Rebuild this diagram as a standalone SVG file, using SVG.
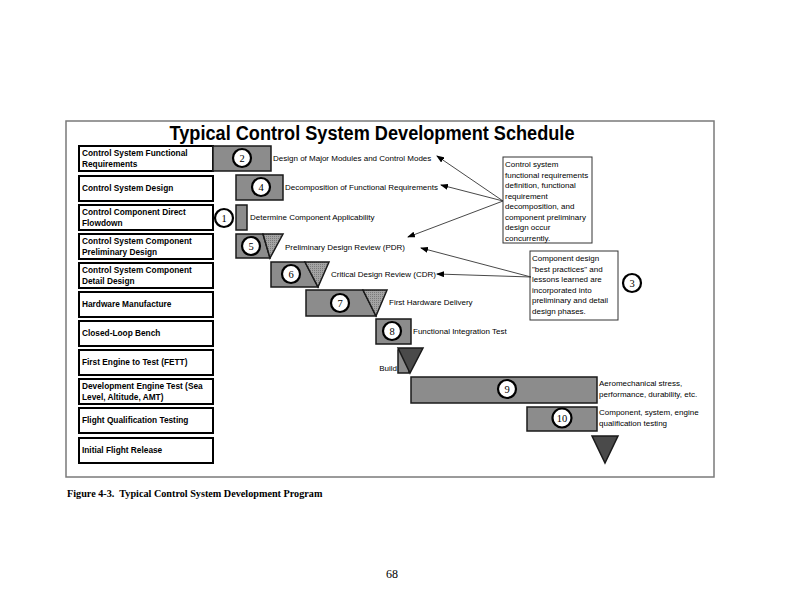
<svg xmlns="http://www.w3.org/2000/svg" width="792" height="612" viewBox="0 0 792 612">
<style>
.lbl{fill:#fff;stroke:#000;stroke-width:2}
.lt{font-family:"Liberation Sans",Arial,sans-serif;font-weight:bold;font-size:8.3px;fill:#000}
.bar{fill:#8c8c8c;stroke:#1a1a1a;stroke-width:1.5}
.hat{fill:url(#hatch);stroke:#1a1a1a;stroke-width:1.5}
.dark{fill:#4a4a4a;stroke:#1a1a1a;stroke-width:1.5}
.cir{fill:#fff;stroke:#000;stroke-width:2.2}
.num{font-family:"Liberation Serif","Times New Roman",serif;font-size:10.5px;fill:#000;text-anchor:middle}
.t{font-family:"Liberation Sans",Arial,sans-serif;font-size:8px;fill:#000}
.box{fill:#fff;stroke:#333;stroke-width:1}
.con{stroke:#333;stroke-width:0.9;fill:none;marker-end:url(#ah)}
</style>
<defs>
<pattern id="hatch" width="2" height="2" patternUnits="userSpaceOnUse">
<rect width="2" height="2" fill="#a4a4a4"/>
<rect width="1" height="1" fill="#7a7a7a"/>
</pattern>
<marker id="ah" markerWidth="8" markerHeight="6" refX="7" refY="3" orient="auto" markerUnits="userSpaceOnUse">
<path d="M0,0 L8,3 L0,6 z" fill="#000"/>
</marker>
</defs>
<rect width="792" height="612" fill="#fff"/>
<rect x="66" y="121" width="648" height="356" fill="#fff" stroke="#7a7a7a" stroke-width="1.5"/>
<text x="372" y="140" text-anchor="middle" font-family="'Liberation Sans',Arial,sans-serif" font-weight="bold" font-size="20" textLength="405" lengthAdjust="spacingAndGlyphs">Typical Control System Development Schedule</text>

<g id="labels">
<g id="row1"><rect class="lbl" x="79" y="146" width="134" height="25"/><text class="lt" x="82" y="156">Control System Functional</text><text class="lt" x="82" y="167">Requirements</text></g>
<g id="row2"><rect class="lbl" x="79" y="176" width="134" height="25"/><text class="lt" x="82" y="191">Control System Design</text></g>
<g id="row3"><rect class="lbl" x="79" y="205" width="134" height="25"/><text class="lt" x="82" y="215">Control Component Direct</text><text class="lt" x="82" y="226">Flowdown</text></g>
<g id="row4"><rect class="lbl" x="79" y="234" width="134" height="25"/><text class="lt" x="82" y="244">Control System Component</text><text class="lt" x="82" y="255">Preliminary Design</text></g>
<g id="row5"><rect class="lbl" x="79" y="263" width="134" height="25"/><text class="lt" x="82" y="273">Control System Component</text><text class="lt" x="82" y="284">Detail Design</text></g>
<g id="row6"><rect class="lbl" x="79" y="292" width="134" height="25"/><text class="lt" x="82" y="307">Hardware Manufacture</text></g>
<g id="row7"><rect class="lbl" x="79" y="321" width="134" height="25"/><text class="lt" x="82" y="336">Closed-Loop Bench</text></g>
<g id="row8"><rect class="lbl" x="79" y="350" width="134" height="25"/><text class="lt" x="82" y="365">First Engine to Test (FETT)</text></g>
<g id="row9"><rect class="lbl" x="79" y="379" width="134" height="25"/><text class="lt" x="82" y="389">Development Engine Test (Sea</text><text class="lt" x="82" y="400">Level, Altitude, AMT)</text></g>
<g id="row10"><rect class="lbl" x="79" y="408" width="134" height="25"/><text class="lt" x="82" y="423">Flight Qualification Testing</text></g>
<g id="row11"><rect class="lbl" x="79" y="438" width="134" height="25"/><text class="lt" x="82" y="453">Initial Flight Release</text></g>
</g>

<g id="task2"><rect class="bar" x="213" y="146" width="58" height="25"/><circle class="cir" cx="242" cy="158" r="9"/><text class="num" x="242" y="161.5">2</text><text class="t" x="273" y="161">Design of Major Modules and Control Modes</text></g>
<g id="task4"><rect class="bar" x="236" y="175" width="47" height="25"/><circle class="cir" cx="261" cy="187" r="9"/><text class="num" x="261" y="190.5">4</text><text class="t" x="285" y="190">Decomposition of Functional Requirements</text></g>
<g id="task1"><circle class="cir" cx="224" cy="218" r="9"/><text class="num" x="224" y="221.5">1</text><rect class="bar" x="236" y="205" width="11" height="25"/><text class="t" x="250" y="220">Determine Component Applicability</text></g>
<g id="task5"><path class="bar" d="M236,234 L263,234 L270,258 L236,258 Z"/><path class="hat" d="M263,234 L283,234 L270,258 Z"/><circle class="cir" cx="251" cy="246" r="9"/><text class="num" x="251" y="249.5">5</text><text class="t" x="285" y="250">Preliminary Design Review (PDR)</text></g>
<g id="task6"><path class="bar" d="M271,262 L305,262 L318,287 L271,287 Z"/><path class="hat" d="M305,262 L329,262 L318,287 Z"/><circle class="cir" cx="291" cy="274" r="9"/><text class="num" x="291" y="277.5">6</text><text class="t" x="331" y="277">Critical Design Review (CDR)</text></g>
<g id="task7"><path class="bar" d="M306,290 L363,290 L376,316 L306,316 Z"/><path class="hat" d="M363,290 L387,290 L376,316 Z"/><circle class="cir" cx="340" cy="303" r="9"/><text class="num" x="340" y="306.5">7</text><text class="t" x="389" y="305">First Hardware Delivery</text></g>
<g id="task8"><rect class="bar" x="376" y="319" width="35" height="25"/><circle class="cir" cx="392" cy="331" r="9"/><text class="num" x="392" y="334.5">8</text><text class="t" x="413" y="334">Functional Integration Test</text></g>
<g id="build"><rect class="bar" x="398" y="350" width="11" height="23"/><path class="dark" d="M398,348 L423,348 L410,373 Z"/><text class="t" x="397" y="371" text-anchor="end">Build</text></g>
<g id="task9"><rect class="bar" x="411" y="377" width="186" height="26"/><circle class="cir" cx="507" cy="389" r="9"/><text class="num" x="507" y="392.5">9</text><text class="t" x="599" y="386">Aeromechanical stress,</text><text class="t" x="599" y="397">performance, durability, etc.</text></g>
<g id="task10"><rect class="bar" x="527" y="407" width="70" height="24"/><circle class="cir" cx="562" cy="418" r="9.5"/><text class="num" x="562" y="421.5">10</text><text class="t" x="599" y="415">Component, system, engine</text><text class="t" x="599" y="426">qualification testing</text></g>
<g id="release"><path class="dark" d="M592,436 L618,436 L605,463 Z"/></g>

<g id="note1"><rect class="box" x="503" y="157" width="89" height="86"/>
<text class="t" x="505" y="167">Control system</text>
<text class="t" x="505" y="177.5">functional requirements</text>
<text class="t" x="505" y="188">definition, functional</text>
<text class="t" x="505" y="198.5">requirement</text>
<text class="t" x="505" y="209">decomposition, and</text>
<text class="t" x="505" y="219.5">component preliminary</text>
<text class="t" x="505" y="230">design occur</text>
<text class="t" x="505" y="240.5">concurrently.</text></g>
<g id="note2"><rect class="box" x="530" y="251" width="88" height="69"/>
<text class="t" x="532" y="261">Component design</text>
<text class="t" x="532" y="271.5">"best practices" and</text>
<text class="t" x="532" y="282">lessons learned are</text>
<text class="t" x="532" y="292.5">incorporated into</text>
<text class="t" x="532" y="303">preliminary and detail</text>
<text class="t" x="532" y="313.5">design phases.</text></g>
<g id="note3"><circle class="cir" cx="632" cy="283" r="9"/><text class="num" x="632" y="286.5">3</text></g>

<g id="connectors">
<line class="con" x1="503" y1="201" x2="437" y2="156"/>
<line class="con" x1="503" y1="201" x2="441" y2="185"/>
<line class="con" x1="503" y1="201" x2="408" y2="237"/>
<line class="con" x1="531" y1="277" x2="421" y2="248"/>
<line class="con" x1="531" y1="277" x2="437" y2="274"/>
</g>

<text x="67" y="497" xml:space="preserve" font-family="'Liberation Serif','Times New Roman',serif" font-weight="bold" font-size="10.2">Figure 4-3.  Typical Control System Development Program</text>
<text x="392" y="578" text-anchor="middle" font-family="'Liberation Serif','Times New Roman',serif" font-size="12">68</text>
</svg>
